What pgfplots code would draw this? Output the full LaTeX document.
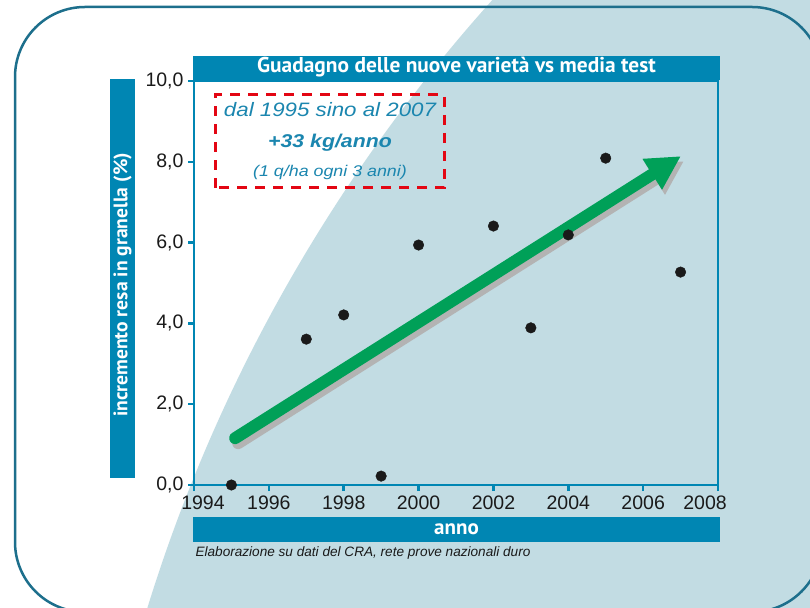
\documentclass[border=0pt]{standalone}
\usepackage{pgfplots}
\pgfplotsset{compat=1.18}
\usetikzlibrary{arrows.meta}
\usepackage{fontspec}
\setmainfont{PT Sans}
\newfontfamily\lightfont{Liberation Sans}
\newfontfamily\boxfont[FakeStretch=1.15]{Liberation Sans}
\definecolor{mainblue}{HTML}{0086B3}
\definecolor{framecol}{HTML}{1D6F8C}
\definecolor{lightbg}{HTML}{C2DCE3}
\definecolor{arrowgreen}{HTML}{00A058}
\definecolor{redc}{HTML}{E30613}
\definecolor{shadowgray}{HTML}{B3B3B3}
\definecolor{tickcol}{HTML}{1A1A1A}
\definecolor{boxtext}{HTML}{1B86AF}
\begin{document}
\begin{tikzpicture}[x=1pt,y=1pt]
\useasboundingbox (0,0) rectangle (810,607);
\clip (0,0) rectangle (810,607);
\fill[white] (0,0) rectangle (810,607);
\fill[lightbg] (1707,-483) circle[radius=1632];
\draw[framecol, line width=2.5pt, rounded corners=70pt] (15,600) rectangle (822,-5);
\begin{axis}[
  at={(194pt,122pt)}, anchor=south west,
  scale only axis, width=524pt, height=404pt,
  xmin=1994, xmax=2008, ymin=0, ymax=10,
  xtick={1994,1996,...,2008},
  xticklabels={\hspace*{18pt}1994,1996,1998,2000,2002,2004,2006,2008\hspace*{26pt}},
  ytick={0,2,...,10},
  xtick pos=bottom, ytick pos=left,
  tick align=outside, major tick length=6pt,
  tick style={mainblue, line width=2.5pt},
  axis line style={mainblue, line width=2.5pt},
  clip=false,
  /pgf/number format/assume math mode=true,
  tick label style={font=\lightfont\fontsize{19.5}{22}\selectfont, text=tickcol},
  y tick label style={/pgf/number format/.cd, fixed, fixed zerofill, precision=1, use comma},
  xticklabel shift=1pt, yticklabel shift=1pt,
]
\addplot[shadowgray, line width=12pt, line cap=round, -{Triangle[width=34pt,length=34pt]}, xshift=3pt, yshift=-5pt]
  coordinates {(1995.1,1.16) (2007.01,8.14)};
\addplot[arrowgreen, line width=12pt, line cap=round, -{Triangle[width=34pt,length=34pt]}]
  coordinates {(1995.1,1.16) (2007.01,8.14)};
\addplot[only marks, mark=*, mark size=5.3pt, color=tickcol] coordinates {
  (1995,0.0) (1997,3.61) (1998,4.21) (1999,0.22) (2000,5.94)
  (2002,6.41) (2003,3.89) (2004,6.19) (2005,8.09) (2007,5.27)};
\end{axis}
% title bar
\fill[mainblue] (193,527) rectangle (720,551);
\node[white, font=\bfseries\fontsize{21.4}{24}\selectfont] at (456.5,539.5) {Guadagno delle nuove varietà vs media test};
% y label bar
\fill[mainblue] (110,129) rectangle (135,528);
\node[white, rotate=90, font=\bfseries\fontsize{19.6}{24}\selectfont] at (122.5,322) {incremento resa in granella (\%)};
% x label bar
\fill[mainblue] (193,65) rectangle (720,90);
\node[white, font=\bfseries\fontsize{21}{24}\selectfont] at (456.5,78) {anno};
% source
\node[anchor=west, text=tickcol, font=\lightfont\itshape\fontsize{13.6}{15}\selectfont] at (192,54) {Elaborazione su dati del CRA, rete prove nazionali duro};
% annotation box
\draw[redc, line width=3pt, dash pattern=on 10pt off 8pt] (215,419) rectangle (444,512);
\node[text=boxtext, font=\boxfont\itshape\fontsize{19.4}{22}\selectfont] at (330,497) {dal 1995 sino al 2007};
\node[text=boxtext, font=\boxfont\bfseries\itshape\fontsize{18.5}{22}\selectfont] at (330,464) {+33 kg/anno};
\node[text=boxtext, font=\boxfont\itshape\fontsize{15.5}{18}\selectfont] at (330,435) {(1 q/ha ogni 3 anni)};
\end{tikzpicture}
\end{document}
